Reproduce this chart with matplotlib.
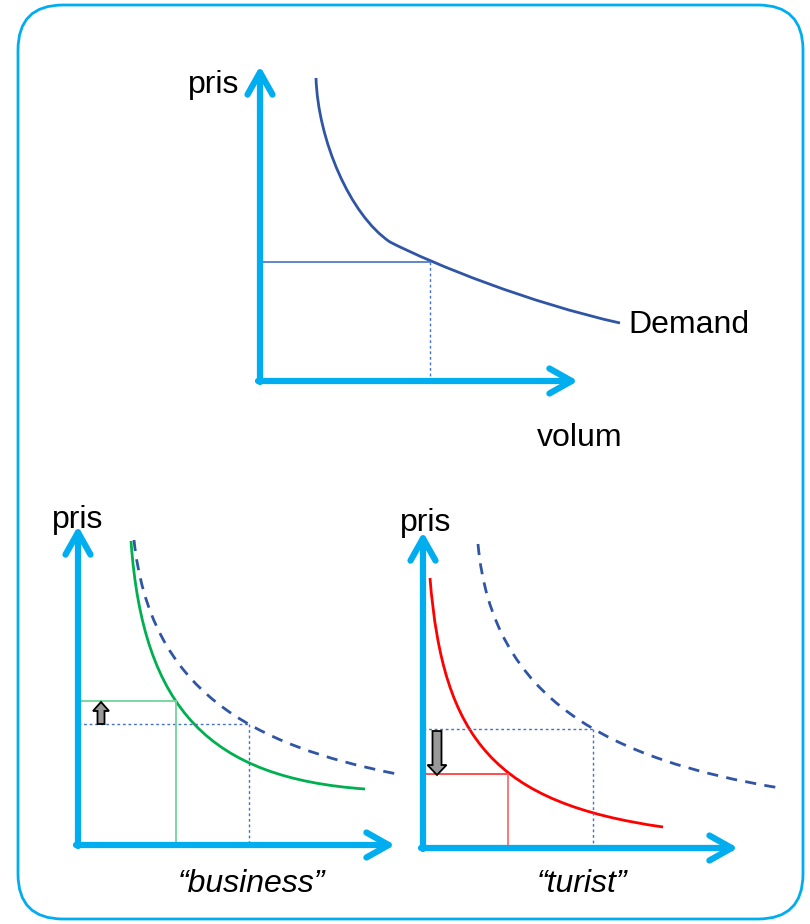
import matplotlib.pyplot as plt
from matplotlib.patches import FancyArrowPatch, FancyBboxPatch, PathPatch
from matplotlib.path import Path

plt.rcParams["font.family"] = ["Liberation Sans", "DejaVu Sans"]

# Curves as cubic Bezier control points (start, c1, c2, end, [c1, c2, end ...]),
# pixel coordinates
demand_ctrl = [(316, 78), (318, 140), (350, 215), (390, 242),
               (435, 265), (530, 303), (620, 323)]
top_point = (430, 262)

# bottom left: "business"
business_ctrl = [(131, 541), (143, 710), (210, 778), (365, 789)]
orig_left_ctrl = [(134, 540), (150, 690), (250, 745), (397, 774)]
business_point = (176, 701)
orig_left_point = (249, 724)

# bottom right: "turist"
turist_ctrl = [(430, 578), (443, 740), (495, 803), (663, 827)]
orig_right_ctrl = [(478, 544), (492, 700), (610, 760), (780, 788)]
turist_point = (508, 774)
orig_right_point = (593, 729)

AXIS = "#00AEEF"
BLUE = "#2F55A4"
DOT = "#4472C4"

fig = plt.figure(figsize=(8.1, 9.24), dpi=100)
ax = fig.add_axes([0, 0, 1, 1])
ax.set_xlim(0, 810)
ax.set_ylim(924, 0)
ax.axis("off")

# rounded frame
frame = FancyBboxPatch((18, 5), 785, 914, boxstyle="round,pad=0,rounding_size=45",
                       fill=False, ec=AXIS, lw=2)
ax.add_patch(frame)


def axis_arrow(p0, p1):
    arr = FancyArrowPatch(p0, p1, arrowstyle="->,head_length=0.8,head_width=0.45",
                          mutation_scale=20, color=AXIS, lw=4.5, shrinkA=0, shrinkB=0,
                          capstyle="round", joinstyle="round", zorder=3)
    ax.add_patch(arr)


def curve(ctrl, **kw):
    codes = [Path.MOVETO] + [Path.CURVE4] * (len(ctrl) - 1)
    ax.add_patch(PathPatch(Path(ctrl, codes), fill=False, **kw))


# axes of the three charts
axis_arrow((260, 382), (260, 66))
axis_arrow((258, 381), (578, 381))
axis_arrow((78, 846), (78, 526))
axis_arrow((76, 845), (395, 845))
axis_arrow((423, 849), (423, 532))
axis_arrow((421, 848), (738, 848))

# top chart
curve(demand_ctrl, ec=BLUE, lw=2)
ax.plot([260, top_point[0]], [top_point[1]] * 2, color=DOT, lw=1.2)
ax.plot([top_point[0]] * 2, [top_point[1], 381], color=DOT, lw=1, ls=(0, (2, 2)))
ax.text(188, 85, "pris", fontsize=23, va="center", ha="left")
ax.text(628, 325, "Demand", fontsize=23, va="center", ha="left")
ax.text(537, 438, "volum", fontsize=23, va="center", ha="left")

# bottom left chart
curve(orig_left_ctrl, ec=BLUE, lw=2, ls=(0, (4, 3)))
curve(business_ctrl, ec="#00B050", lw=2)
ax.plot([78, orig_left_point[0]], [orig_left_point[1]] * 2, color=DOT, lw=1, ls=(0, (2, 2)))
ax.plot([orig_left_point[0]] * 2, [orig_left_point[1], 845], color=DOT, lw=1, ls=(0, (2, 2)))
ax.plot([78, business_point[0]], [business_point[1]] * 2, color="#70D49A", lw=1.3)
ax.plot([business_point[0]] * 2, [business_point[1], 845], color="#70D49A", lw=1.3)
ax.arrow(101, 724, 0, -22, width=7, head_width=16, head_length=9,
         length_includes_head=True, fc="#999999", ec="black", lw=1.3, zorder=4)
ax.text(52, 520, "pris", fontsize=23, va="center", ha="left")
ax.text(251, 884, "\u201cbusiness\u201d", fontsize=23, va="center", ha="center", style="italic")

# bottom right chart
curve(orig_right_ctrl, ec=BLUE, lw=2, ls=(0, (4, 3)))
curve(turist_ctrl, ec="#FF0000", lw=2)
ax.plot([423, orig_right_point[0]], [orig_right_point[1]] * 2, color=DOT, lw=1, ls=(0, (2, 2)))
ax.plot([orig_right_point[0]] * 2, [orig_right_point[1], 848], color=DOT, lw=1, ls=(0, (2, 2)))
ax.plot([423, turist_point[0]], [turist_point[1]] * 2, color="#FF3030", lw=1.2)
ax.plot([turist_point[0]] * 2, [turist_point[1], 848], color="#FF6060", lw=1.2)
ax.arrow(437, 731, 0, 44, width=9, head_width=19, head_length=10,
         length_includes_head=True, fc="#999999", ec="black", lw=1.3, zorder=4)
ax.text(400, 523, "pris", fontsize=23, va="center", ha="left")
ax.text(582, 884, "\u201cturist\u201d", fontsize=23, va="center", ha="center", style="italic")

plt.savefig("out.png", dpi=100)
plt.close()
